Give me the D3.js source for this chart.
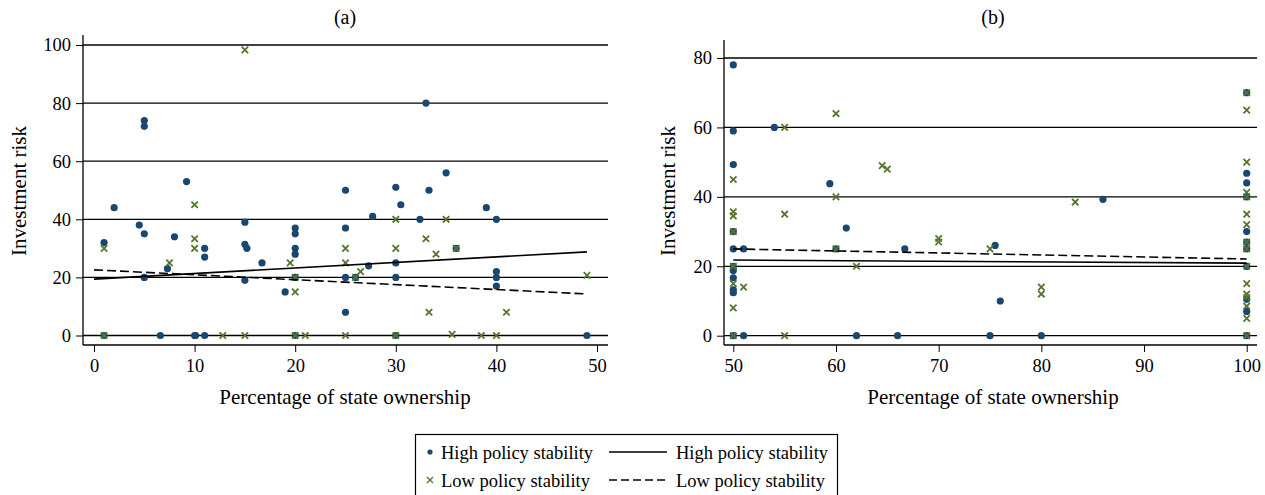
<!DOCTYPE html>
<html>
<head>
<meta charset="utf-8">
<script src="https://cdn.jsdelivr.net/npm/d3@7"></script>
<style>
  body { margin: 0; background: #fff; }
  text { font-family: "Liberation Serif", "DejaVu Serif", serif; fill: #000; }
</style>
</head>
<body>
<div id="chart"></div>
<script>
// panel (a): state ownership below 50%
var highA = [[1,32],[2,44],[5,74],[5,72],[4.5,38],[5,35],[5,20],[8,34],[7.3,23],[9.2,53],[11,30],[11,27],
  [1,0],[6.6,0],[10,0],[10.1,0],[11,0],[15,39],[15,31.4],[15.2,30],[15,19],[16.7,25],[19,15],[20,37],[20,35],
  [20,30],[20,28],[20,20],[20,0],[25,50],[25,37],[25,20],[25,8],[26,20],[27.7,41],[27.3,24],[33,80],[35,56],
  [30,51],[33.3,50],[30.5,45],[39,44],[32.4,40],[40,40],[36,30],[30,25],[30,20],[40,22],[40,20],[40,17],[30,0],[49,0]];
var lowA = [[15,98.3],[1,30],[1,0],[7.5,25],[10,45],[10,33.3],[10,30],[12.8,0],[15,0],[19.5,25],[20,20],[20,15],
  [20,0],[21,0],[25,30],[25,25],[25,0],[26,20],[26.5,22],[30,40],[35,40],[33,33.3],[30,30],[36,30],[34,28],
  [49,20.7],[33.3,8],[41,8],[30,0],[35.6,0.4],[38.5,0],[40,0]];
var fitHighA = [[0,19.4],[49,28.8]];
var fitLowA = [[0,22.6],[49,14.3]];

// panel (b): state ownership 50% and above
var highB = [[50,78],[50,59],[50,49.3],[50,30],[50,25],[50,20],[50,18.8],[50,16.7],[50,13.2],[50,12.4],[50,0],
  [51,25],[51,0],[54,60],[59.4,43.8],[60,25],[61,31],[62,0],[66,0],[66.7,25],[75.5,26],[75,0],[76,10],[80,0],
  [86,39.3],[100,70],[100,46.8],[100,44],[100,40],[100,30],[100,27],[100,25],[100,20],[100,10.5],[100,7],[100,0]];
var lowB = [[50,45],[50,35.7],[50,34.5],[50,30],[50,20],[50,15],[50,8],[50,0],[51,14],[55,60],[55,35],[55,0],
  [60,64],[60,40],[60,25],[62,20],[64.5,49],[65,48],[70,28],[70,27],[75,25],[80,14],[80,12],[83.3,38.5],
  [100,70],[100,65],[100,50],[100,41.3],[100,40],[100,35],[100,32],[100,27],[100,25],[100,20],[100,15],
  [100,12],[100,11],[100,8.5],[100,5],[100,0]];
var fitHighB = [[50,21.8],[100,20.9]];
var fitLowB = [[50,25],[100,22.1]];

var ticksXA = [0,10,20,30,40,50];
var ticksYA = [0,20,40,60,80,100];
var ticksXB = [50,60,70,80,90,100];
var ticksYB = [0,20,40,60,80];

var legendLabels = ["High policy stability", "Low policy stability"];

var blue = "#1a476f",
    green = "#55752f";

var svg = d3.select("#chart")
    .append("svg")
    .attr("width", 1265)
    .attr("height", 495);

var panel = (cfg) => {
  var x = d3.scaleLinear().domain(cfg.xDomain).range(cfg.xRange);
  var y = d3.scaleLinear().domain(cfg.yDomain).range(cfg.yRange);
  var g = svg.append("g");

  // horizontal grid lines
  g.selectAll(".grid")
    .data(cfg.yTicks)
    .enter().append("line")
    .attr("x1", cfg.left).attr("x2", cfg.right)
    .attr("y1", d => y(d)).attr("y2", d => y(d))
    .attr("stroke", "#000").attr("stroke-width", 1.3);

  // y axis
  var yAxis = g.append("g")
    .attr("transform", "translate(" + cfg.left + ",0)")
    .call(d3.axisLeft(y).tickValues(cfg.yTicks).tickSize(7).tickPadding(5));
  yAxis.select(".domain").remove();
  yAxis.selectAll("text").style("font-size", "18.5px").style("font-family", "Liberation Serif");
  g.append("line")
    .attr("x1", cfg.left).attr("x2", cfg.left)
    .attr("y1", cfg.top).attr("y2", cfg.bottom)
    .attr("stroke", "#000").attr("stroke-width", 1.3);

  // x axis
  var xAxis = g.append("g")
    .attr("transform", "translate(0," + cfg.bottom + ")")
    .call(d3.axisBottom(x).tickValues(cfg.xTicks).tickSize(7).tickPadding(7));
  xAxis.select(".domain").remove();
  xAxis.selectAll("text").style("font-size", "18.5px").style("font-family", "Liberation Serif");
  g.append("line")
    .attr("x1", cfg.left).attr("x2", cfg.right)
    .attr("y1", cfg.bottom).attr("y2", cfg.bottom)
    .attr("stroke", "#000").attr("stroke-width", 1.3);

  // markers
  g.selectAll(".hi")
    .data(cfg.high)
    .enter().append("circle")
    .attr("cx", d => x(d[0])).attr("cy", d => y(d[1]))
    .attr("r", 3.6)
    .attr("fill", blue);

  g.selectAll(".lo")
    .data(cfg.low)
    .enter().append("path")
    .attr("d", d => {
      var cx = x(d[0]), cy = y(d[1]), s = 3.2;
      return "M" + (cx - s) + "," + (cy - s) + "L" + (cx + s) + "," + (cy + s) +
             "M" + (cx - s) + "," + (cy + s) + "L" + (cx + s) + "," + (cy - s);
    })
    .attr("stroke", green).attr("stroke-width", 1.8).attr("fill", "none");

  // fitted lines
  var line = d3.line().x(d => x(d[0])).y(d => y(d[1]));
  g.append("path")
    .attr("d", line(cfg.fitHigh))
    .attr("stroke", "#000").attr("stroke-width", 1.6).attr("fill", "none");
  g.append("path")
    .attr("d", line(cfg.fitLow))
    .attr("stroke", "#000").attr("stroke-width", 1.6).attr("fill", "none")
    .attr("stroke-dasharray", "9,4");

  // titles
  g.append("text")
    .attr("x", cfg.titleX).attr("y", 24)
    .attr("text-anchor", "middle")
    .style("font-size", "20px")
    .text(cfg.title);
  g.append("text")
    .attr("x", cfg.titleX).attr("y", 404)
    .attr("text-anchor", "middle")
    .style("font-size", "21px")
    .text("Percentage of state ownership");
  g.append("text")
    .attr("transform", "translate(" + cfg.yTitleX + ",191) rotate(-90)")
    .attr("text-anchor", "middle")
    .style("font-size", "21px")
    .text("Investment risk");
};

panel({
  xDomain: [0, 50], xRange: [94, 597],
  yDomain: [0, 100], yRange: [335.5, 45],
  left: 83, right: 608, top: 35, bottom: 345,
  xTicks: ticksXA, yTicks: ticksYA,
  high: highA, low: lowA, fitHigh: fitHighA, fitLow: fitLowA,
  title: "(a)", titleX: 345, yTitleX: 26
});

panel({
  xDomain: [50, 100], xRange: [733.3, 1246.7],
  yDomain: [0, 80], yRange: [335.7, 58],
  left: 724, right: 1257, top: 40, bottom: 345,
  xTicks: ticksXB, yTicks: ticksYB,
  high: highB, low: lowB, fitHigh: fitHighB, fitLow: fitLowB,
  title: "(b)", titleX: 993, yTitleX: 675
});

// legend
var leg = svg.append("g");
leg.append("rect")
  .attr("x", 415.5).attr("y", 434.5)
  .attr("width", 422).attr("height", 62)
  .attr("fill", "#fff").attr("stroke", "#000").attr("stroke-width", 1.2);

var rows = [452, 480];
leg.append("circle").attr("cx", 430).attr("cy", rows[0]).attr("r", 2.6).attr("fill", blue);
leg.append("path")
  .attr("d", "M427,477L433,483M427,483L433,477")
  .attr("stroke", green).attr("stroke-width", 1.4);
leg.selectAll(".ll")
  .data(legendLabels)
  .enter().append("text")
  .attr("x", 441).attr("y", (d, i) => rows[i] + 6.5)
  .style("font-size", "18.5px")
  .text(d => d);
leg.append("line")
  .attr("x1", 609).attr("x2", 667).attr("y1", rows[0]).attr("y2", rows[0])
  .attr("stroke", "#000").attr("stroke-width", 1.3);
leg.append("line")
  .attr("x1", 609).attr("x2", 667).attr("y1", rows[1]).attr("y2", rows[1])
  .attr("stroke", "#000").attr("stroke-width", 1.3)
  .attr("stroke-dasharray", "8,4");
leg.selectAll(".lr")
  .data(legendLabels)
  .enter().append("text")
  .attr("x", 676).attr("y", (d, i) => rows[i] + 6.5)
  .style("font-size", "18.5px")
  .text(d => d);
</script>
</body>
</html>
